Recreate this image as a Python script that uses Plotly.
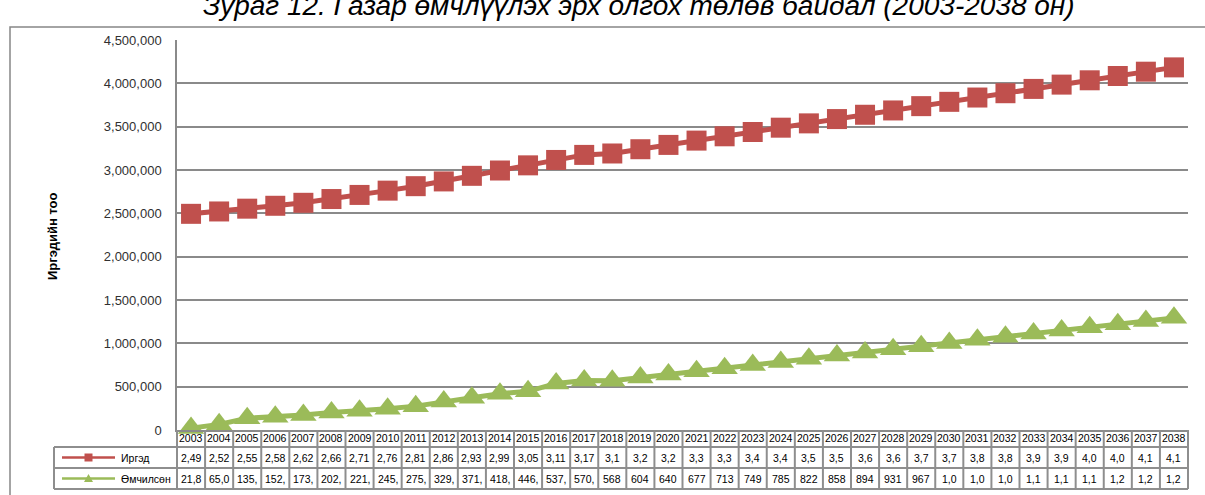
import plotly.graph_objects as go

# ---- data -------------------------------------------------------------
years = list(range(2003, 2039))

# Иргэд (people entitled to land)
citizens = [
    2494300, 2521600, 2553800, 2587200, 2621500, 2664900, 2712300, 2761800,
    2813400, 2868200, 2932700, 2994100, 3053600, 3115900, 3174200, 3190500,
    3239800, 3289500, 3339200, 3388900, 3438600, 3488300, 3538000, 3587700,
    3637400, 3687100, 3736800, 3786500, 3836200, 3885900, 3935600, 3985300,
    4035000, 4084700, 4134400, 4184100,
]

# Өмчилсөн (people who have received land)
owned = [
    21845, 65040, 135210, 152480, 173620, 202350, 221470, 245890,
    275310, 329560, 371240, 418730, 446180, 537420, 570350, 568210,
    604470, 640730, 677020, 713280, 749540, 785810, 822070, 858340,
    894600, 931130, 967390, 1003650, 1039920, 1076180, 1112450, 1148710,
    1184980, 1221240, 1257510, 1293770,
]

series_names = ["Иргэд", "Өмчилсөн"]
y_title = "Иргэдийн тоо"
chart_title = "Зураг 12. Газар өмчлүүлэх эрх олгох төлөв байдал (2003-2038 он)"

# number of characters that fit in each data-table cell
cell_chars = [4] * 15 + [3] * 21

# ---- geometry -----------------------------------------------------------
W, H = 1205, 495
L, R, T, B = 177, 1188, 40, 430          # plot area in pixels
YMAX = 4_500_000
NCOL = len(years)

RED = "#C0504D"
GREEN = "#9BBB59"
GRID = "#8A8A8A"
FONT = "Liberation Sans, Arial, sans-serif"


def xp(px):
    return (px - L) / (R - L)


def yp(py):
    return (B - py) / (B - T)


def fmt(v, n):
    return f"{v:,}"[:n]


fig = go.Figure()

fig.add_trace(go.Scatter(
    x=years, y=citizens, mode="lines+markers", name=series_names[0],
    line=dict(color=RED, width=5),
    marker=dict(symbol="square", size=20, color=RED),
    cliponaxis=False, showlegend=False,
))
fig.add_trace(go.Scatter(
    x=years, y=owned, mode="lines+markers", name=series_names[1],
    line=dict(color=GREEN, width=5),
    marker=dict(symbol="triangle-up", size=23, color=GREEN),
    cliponaxis=False, showlegend=False,
))

# ---- shapes: chart frame and data-table grid ----------------------------
shapes = [
    dict(type="rect", xref="paper", yref="paper",
         x0=xp(10), x1=xp(1215), y0=yp(505), y1=yp(27),
         line=dict(color="#868686", width=1.5), layer="below"),
]
tbl_line = dict(color="#8E8E8E", width=2)
for py in (447, 468, 489):
    shapes.append(dict(type="line", xref="paper", yref="paper",
                       x0=xp(54), x1=xp(R), y0=yp(py), y1=yp(py),
                       line=tbl_line, layer="above"))
shapes.append(dict(type="line", xref="paper", yref="paper",
                   x0=xp(54), x1=xp(54), y0=yp(447), y1=yp(489),
                   line=tbl_line, layer="above"))
for k in range(NCOL + 1):
    shapes.append(dict(type="line", xref="paper", yref="paper",
                       x0=k / NCOL, x1=k / NCOL, y0=yp(430), y1=yp(489),
                       line=tbl_line, layer="above"))

# legend keys inside the data table
rows_py = [457.5, 478.5]
for color, cy in ((RED, rows_py[0]), (GREEN, rows_py[1])):
    shapes.append(dict(type="line", xref="paper", yref="paper",
                       x0=xp(62), x1=xp(115), y0=yp(cy), y1=yp(cy),
                       line=dict(color=color, width=2.5), layer="above"))
shapes.append(dict(type="rect", xref="paper", yref="paper",
                   x0=xp(84.5), x1=xp(92.5), y0=yp(rows_py[0] + 4),
                   y1=yp(rows_py[0] - 4), fillcolor=RED,
                   line=dict(width=0), layer="above"))
ty = rows_py[1]
shapes.append(dict(
    type="path", xref="paper", yref="paper",
    path=(f"M {xp(84):.6f},{yp(ty + 3.5):.6f} "
          f"L {xp(93):.6f},{yp(ty + 3.5):.6f} "
          f"L {xp(88.5):.6f},{yp(ty - 4.5):.6f} Z"),
    fillcolor=GREEN, line=dict(width=0), layer="above"))

tfont = dict(family=FONT, size=10.5, color="#000000")
annotations = []

# year header row
for yr in years:
    annotations.append(dict(text=str(yr), xref="x", yref="paper", x=yr,
                            y=yp(438.5), showarrow=False, font=tfont,
                            xanchor="center", yanchor="middle"))
# value rows
for vals, cy in zip((citizens, owned), rows_py):
    for yr, v, n in zip(years, vals, cell_chars):
        annotations.append(dict(text=fmt(v, n), xref="x", yref="paper",
                                x=yr, y=yp(cy), showarrow=False, font=tfont,
                                xanchor="center", yanchor="middle"))
# row names
for name, cy in zip(series_names, rows_py):
    annotations.append(dict(text=name, xref="paper", yref="paper",
                            x=xp(119), y=yp(cy), showarrow=False, font=tfont,
                            xanchor="left", yanchor="middle"))

annotations += [
    dict(text=f"<b>{y_title}</b>", textangle=-90, xref="paper", yref="paper",
         x=xp(52), y=yp(236), showarrow=False, xanchor="center",
         yanchor="middle",
         font=dict(family=FONT, size=13, color="#000000")),
    dict(text=f"<i>{chart_title}</i>", xref="paper", yref="paper",
         x=xp(639), y=yp(5), showarrow=False, xanchor="center",
         yanchor="middle",
         font=dict(family=FONT, size=28, color="#000000")),
]

fig.update_layout(
    width=W, height=H,
    margin=dict(l=L, r=W - R, t=T, b=H - B, pad=0),
    paper_bgcolor="white", plot_bgcolor="white",
    font=dict(family=FONT, size=13, color="#404040"),
    shapes=shapes, annotations=annotations,
    hovermode=False, showlegend=False,
)
fig.update_xaxes(
    range=[years[0] - 0.5, years[-1] + 0.5], showgrid=False, zeroline=False,
    showticklabels=False, ticks="", showline=True, linecolor=GRID,
    linewidth=1.5,
)
fig.update_yaxes(
    range=[0, YMAX], dtick=500000, tickformat=",d", showgrid=True,
    gridcolor=GRID, gridwidth=1.5, zeroline=False, showline=True,
    linecolor=GRID, linewidth=1.5, ticks="", ticklabelstandoff=11,
    tickfont=dict(family=FONT, size=13, color="#303030"),
)

fig.write_html("out.html", config={"displayModeBar": False})
